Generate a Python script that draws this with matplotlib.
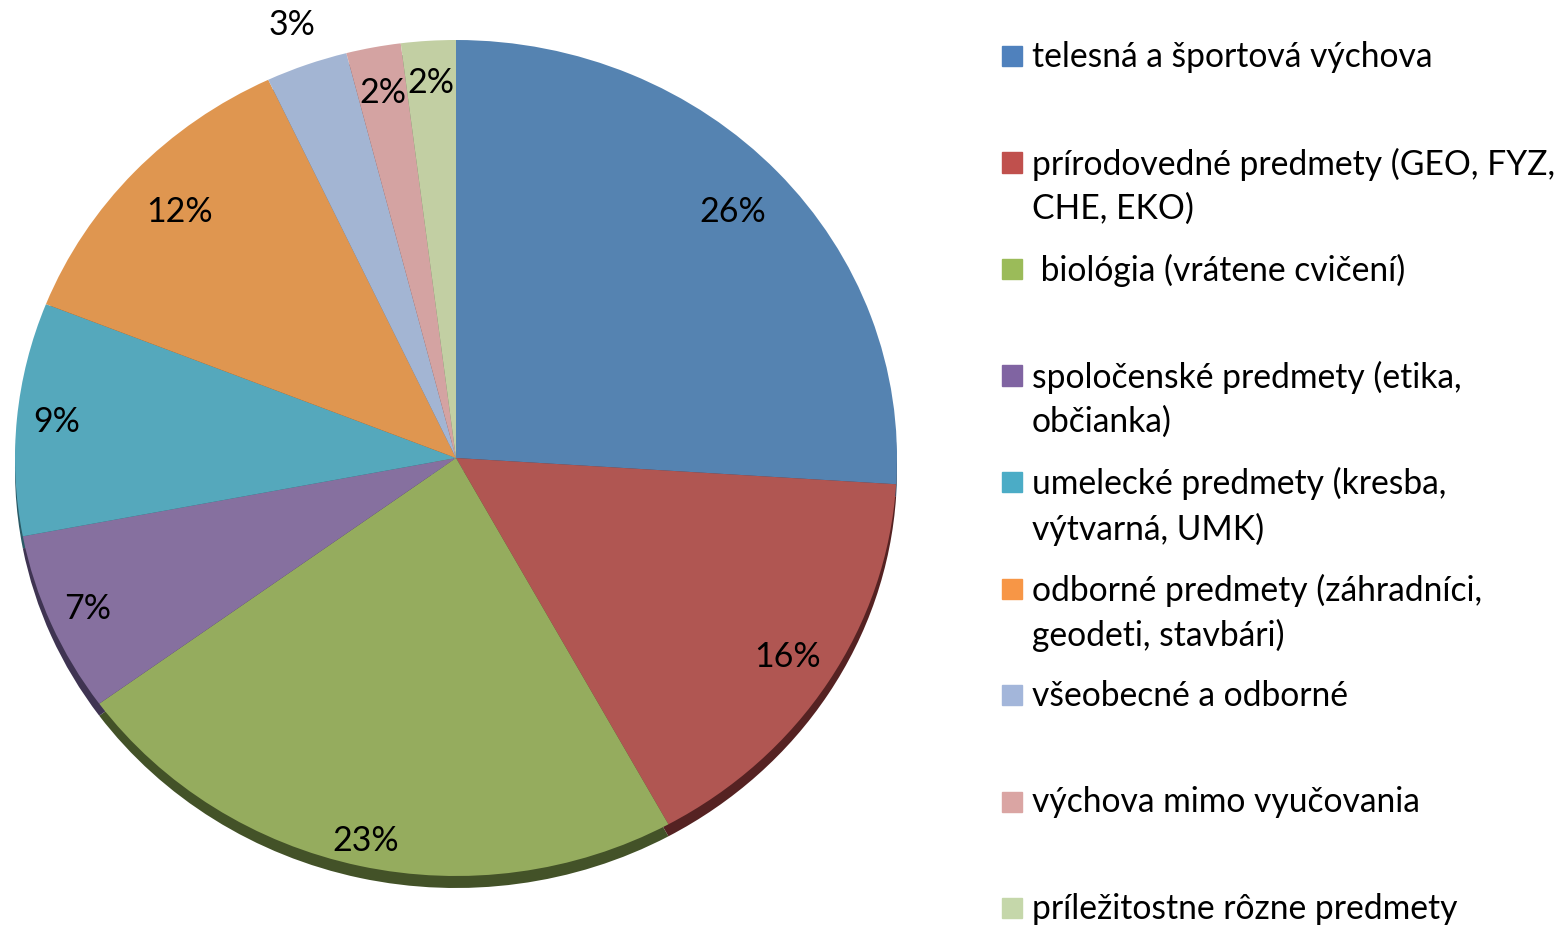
import numpy as np
import matplotlib
matplotlib.use("Agg")
import matplotlib.pyplot as plt
from matplotlib.patches import Rectangle

### data
labels = ["telesná a športová výchova",
          "prírodovedné predmety (GEO, FYZ,\nCHE, EKO)",
          " biológia (vrátene cvičení)",
          "spoločenské predmety (etika,\nobčianka)",
          "umelecké predmety (kresba,\nvýtvarná, UMK)",
          "odborné predmety (záhradníci,\ngeodeti, stavbári)",
          "všeobecné a odborné",
          "výchova mimo vyučovania",
          "príležitostne rôzne predmety"]
values = [26, 16, 23, 7, 9, 12, 3, 2, 2]
pct_text = ["26%", "16%", "23%", "7%", "9%", "12%", "3%", "2%", "2%"]

# farby
top_colors = ["#5583b1", "#b05652", "#95ac5e", "#86709f", "#55a8bc",
              "#df9650", "#a3b5d3", "#d4a3a2", "#c2cfa3"]
side_colors = ["#2f4a66", "#552222", "#435228", "#3f3452", "#2b5a66",
               "#7a4f26", "#5a6478", "#74504f", "#6a735a"]
legend_colors = ["#4f81bd", "#c0504d", "#9bbb59", "#8064a2", "#4bacc6",
                 "#f79646", "#a3b6da", "#daa5a3", "#c5d7aa"]
label_dist = [0.86, 0.89, 0.94, 0.91, 0.91, 0.86, 1.10, 0.89, 0.90]

plt.rcParams["font.family"] = ["Lato", "DejaVu Sans"]

W, H = 1565, 927
fig = plt.figure(figsize=(W / 100, H / 100), dpi=100)

# os pre kolac - elipsa (rx=441, ry=418 px)
cx, cy, rx, ry = 456, 458, 441, 418
ylo = -1.04
ax = fig.add_axes([(cx - rx) / W, (H - (cy + ry * (-ylo))) / H,
                   2 * rx / W, ry * (1 - ylo) / H])

depth = 12 / ry
# bocna strana (tien)
ax.pie(values, colors=side_colors, startangle=90, counterclock=False,
       center=(0, -depth), radius=1, wedgeprops=dict(linewidth=0))
wedges, _ = ax.pie(values, colors=top_colors, startangle=90, counterclock=False,
                   center=(0, 0), radius=1, wedgeprops=dict(linewidth=0))
ax.set_aspect("auto")
ax.set_xlim(-1, 1)
ax.set_ylim(ylo, 1)
ax.axis("off")

# percenta
for w, t, d in zip(wedges, pct_text, label_dist):
    th = np.deg2rad((w.theta1 + w.theta2) / 2)
    ax.text(d * np.cos(th), d * np.sin(th), t, ha="center", va="center",
            fontsize=24.5, color="black")

# legenda
y0 = 56
step = 106.5
for i, (lab, c) in enumerate(zip(labels, legend_colors)):
    y = y0 + i * step
    fig.patches.append(Rectangle((1002 / W, (H - y - 10) / H), 20 / W, 20 / H,
                                 transform=fig.transFigure, color=c))
    fig.text(1032 / W, (H - y + 15) / H, lab, ha="left", va="top",
             fontsize=24.2, linespacing=1.47, color="black")

fig.savefig("out.png", dpi=100, facecolor="white")
